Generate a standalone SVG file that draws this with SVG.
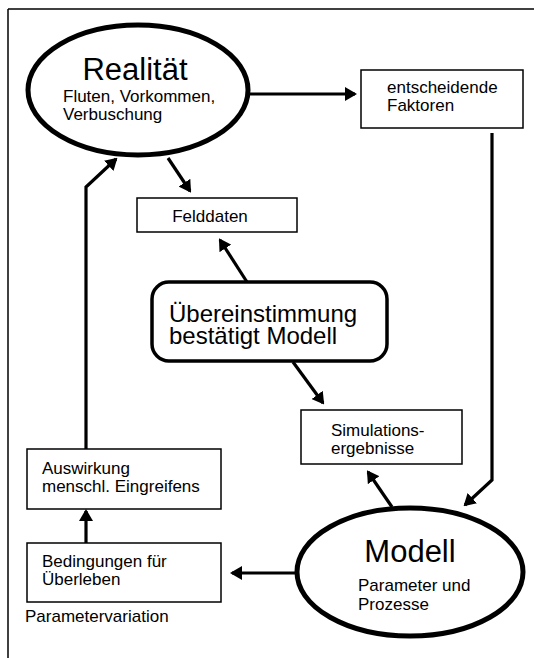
<svg xmlns="http://www.w3.org/2000/svg" width="534" height="658" viewBox="0 0 534 658">
<defs>
<style>
text{font-family:"Liberation Sans",Arial,sans-serif;fill:#000}
.box{fill:#fff;stroke:#000;stroke-width:1.5}
.ell{fill:#fff;stroke:#000;stroke-width:5}
.rr{fill:#fff;stroke:#000;stroke-width:3.5}
.frame{stroke:#000;stroke-width:1.5;fill:none}
.c{fill:none;stroke:#000;stroke-width:3.2;stroke-linejoin:miter}
.big{font-size:31px}
.mid{font-size:24px}
.sm{font-size:17px}
</style>
<marker id="ah" viewBox="0 0 12 14" refX="10" refY="7" markerWidth="12" markerHeight="14" markerUnits="userSpaceOnUse" orient="auto">
<path d="M0,0 L12,7 L0,14 Z" fill="#000"/>
</marker>
</defs>
<rect width="534" height="658" fill="#fff"/>
<g id="frame">
<line class="frame" x1="8" y1="9" x2="534" y2="9"/>
<line class="frame" x1="8" y1="9" x2="8" y2="658"/>
</g>
<g id="connectors">
<path class="c" d="M248,94 L355,94" marker-end="url(#ah)"/>
<path class="c" d="M492,133 L492,480 L465,505" marker-end="url(#ah)"/>
<path class="c" d="M86,449 L86,187 L116,159" marker-end="url(#ah)"/>
<path class="c" d="M168,158 L190,191" marker-end="url(#ah)"/>
<path class="c" d="M247,282 L220,240" marker-end="url(#ah)"/>
<path class="c" d="M293,362 L323,403" marker-end="url(#ah)"/>
<path class="c" d="M392,507 L368,472" marker-end="url(#ah)"/>
<path class="c" d="M298,573 L232,573" marker-end="url(#ah)"/>
<path class="c" d="M86,543 L86,511" marker-end="url(#ah)"/>
</g>
<g id="realitaet">
<ellipse class="ell" cx="138" cy="90" rx="110" ry="65"/>
<text class="big" x="135" y="80" text-anchor="middle">Realität</text>
<text class="sm" x="63" y="102">Fluten, Vorkommen,</text>
<text class="sm" x="63" y="120">Verbuschung</text>
</g>
<g id="faktoren">
<rect class="box" x="361" y="70" width="162" height="58"/>
<text class="sm" x="387" y="93">entscheidende</text>
<text class="sm" x="387" y="111">Faktoren</text>
</g>
<g id="felddaten">
<rect class="box" x="137" y="198" width="160" height="34"/>
<text class="sm" x="210" y="222" text-anchor="middle">Felddaten</text>
</g>
<g id="uebereinstimmung">
<rect class="rr" x="152" y="282" width="235" height="79" rx="17" ry="17"/>
<text class="mid" x="169" y="322">Übereinstimmung</text>
<text class="mid" x="169" y="344">bestätigt Modell</text>
</g>
<g id="simulation">
<rect class="box" x="301" y="410" width="161" height="54"/>
<text class="sm" x="331" y="436">Simulations-</text>
<text class="sm" x="331" y="454">ergebnisse</text>
</g>
<g id="auswirkung">
<rect class="box" x="27" y="449" width="194" height="60"/>
<text class="sm" x="42" y="474">Auswirkung</text>
<text class="sm" x="42" y="492">menschl. Eingreifens</text>
</g>
<g id="bedingungen">
<rect class="box" x="27" y="543" width="194" height="59"/>
<text class="sm" x="42" y="567">Bedingungen für</text>
<text class="sm" x="42" y="585">Überleben</text>
</g>
<g id="parametervariation">
<text class="sm" x="25" y="622">Parametervariation</text>
</g>
<g id="modell">
<ellipse class="ell" cx="410" cy="572" rx="113" ry="64"/>
<text class="big" x="410" y="562" text-anchor="middle">Modell</text>
<text class="sm" x="358" y="591">Parameter und</text>
<text class="sm" x="358" y="610">Prozesse</text>
</g>
</svg>
